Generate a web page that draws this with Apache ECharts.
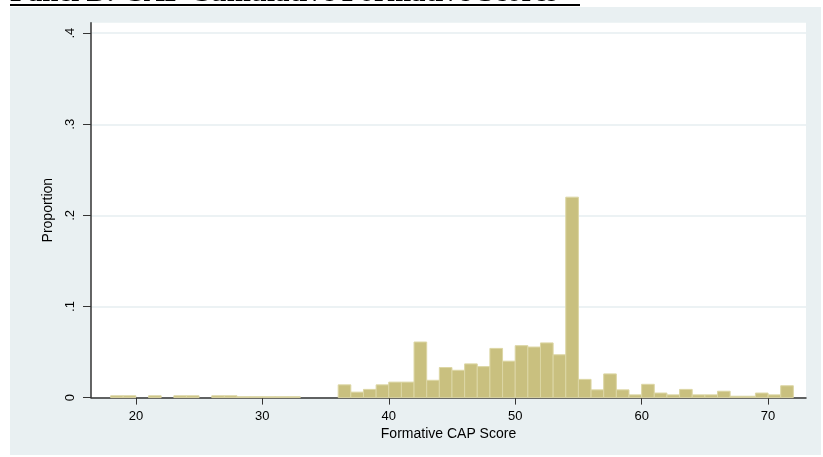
<!DOCTYPE html>
<html>
<head>
<meta charset="utf-8">
<script src="https://cdn.jsdelivr.net/npm/echarts@6/dist/echarts.min.js"></script>
<style>
html,body{margin:0;padding:0;background:#ffffff;}
#chart{width:823px;height:457px;}
</style>
</head>
<body>
<div id="chart"></div>
<script>
// Bin left edges (Formative CAP Score), bin width 1
const binWidth = 1;
const scores = [18,19,20,21,22,23,24,25,26,27,28,29,30,31,32,33,34,35,
  36,37,38,39,40,41,42,43,44,45,46,47,48,49,50,51,52,53,54,55,56,57,58,59,
  60,61,62,63,64,65,66,67,68,69,70,71];
const proportions = [0.002,0.002,0,0.002,0,0.002,0.002,0,0.002,0.002,0.001,0.001,0.001,0.001,0.001,0,0,0,
  0.014,0.006,0.009,0.014,0.017,0.017,0.061,0.019,0.033,0.030,0.037,0.034,0.054,0.040,0.057,0.0555,0.060,0.047,0.220,0.020,0.0085,0.026,0.0085,0.003,
  0.0146,0.005,0.003,0.009,0.003,0.003,0.007,0.0015,0.0015,0.005,0.003,0.013];
const xTicks = [20,30,40,50,60,70];
const yTicks = [0,0.1,0.2,0.3,0.4];
const titleText = 'Panel B: CAP Cumulative Formative Scores';
const xName = 'Formative CAP Score';
const yName = 'Proportion';

const chart = echarts.init(document.getElementById('chart'), null, {renderer:'canvas'});
const data = scores.map((s,i)=>[s, proportions[i]]);

const option = {
  animation:false,
  backgroundColor:'transparent',
  graphic:[
    {type:'rect', z:-100, silent:true, shape:{x:10,y:7,width:811,height:448}, style:{fill:'#e9f0f2'}},
    {type:'text', silent:true, style:{text:titleText, x:10, y:-6, textVerticalAlign:'middle', font:'bold 29px "Liberation Serif"', fill:'#000'}},
    {type:'rect', silent:true, shape:{x:10,y:4,width:570,height:2}, style:{fill:'#000'}}
  ],
  grid:{left:91, top:22.7, right:17, bottom:59.4, show:true, backgroundColor:'#ffffff', borderWidth:0},
  xAxis:{
    type:'value', min:16.45, max:73.0,
    name:xName, nameLocation:'middle', nameGap:30,
    nameTextStyle:{fontFamily:'Liberation Sans', fontSize:14, color:'#000'},
    axisLine:{show:true, onZero:false, lineStyle:{color:'#333', width:1.5}},
    axisTick:{show:true, length:7, lineStyle:{color:'#333'}, customValues:xTicks},
    axisLabel:{customValues:xTicks, margin:12, fontFamily:'Liberation Sans', fontSize:13, color:'#000'},
    splitLine:{show:false}
  },
  yAxis:{
    type:'value', min:0, max:0.4115, interval:0.1,
    name:yName, nameLocation:'middle', nameGap:36,
    nameTextStyle:{fontFamily:'Liberation Sans', fontSize:14, color:'#000'},
    axisLine:{show:true, lineStyle:{color:'#333', width:1.5}},
    axisTick:{show:true, length:8, lineStyle:{color:'#333'}, customValues:yTicks},
    axisLabel:{customValues:yTicks, rotate:90, margin:14, fontFamily:'Liberation Sans', fontSize:13, color:'#000',
      formatter:v=> v===0 ? '0' : '.' + Math.round(v*10)},
    splitLine:{show:true, lineStyle:{color:'#e6eef1', width:1.5}}
  },
  series:[{
    type:'custom',
    data:data,
    encode:{x:0,y:1},
    renderItem:function(params, api){
      const x0 = api.value(0), h = api.value(1);
      if(!h) return null;
      const p0 = api.coord([x0, h]);
      const p1 = api.coord([x0 + binWidth, 0]);
      return {type:'rect', shape:{x:p0[0], y:p0[1], width:p1[0]-p0[0], height:p1[1]-p0[1]},
        style:{fill:'#c9c07f', stroke:'#dcd6a4', lineWidth:1}};
    }
  }]
};
chart.setOption(option);
</script>
</body>
</html>
